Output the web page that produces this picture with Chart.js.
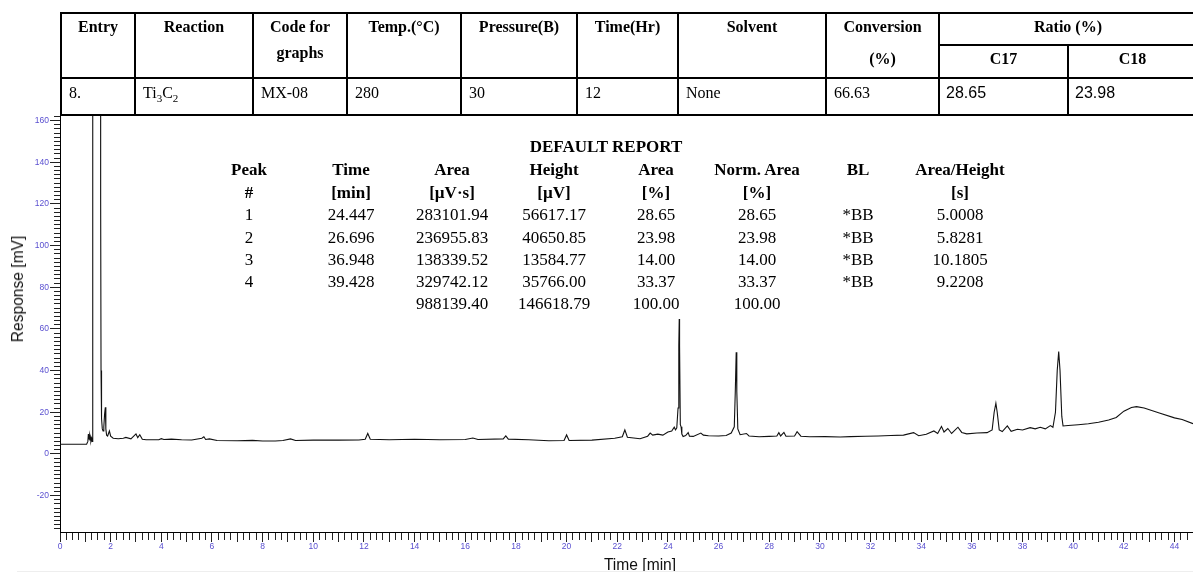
<!DOCTYPE html>
<html>
<head>
<meta charset="utf-8">
<script src="https://cdn.jsdelivr.net/npm/chart.js@4.4.0/dist/chart.umd.min.js"></script>
<style>
    html, body { margin: 0; padding: 0; background: #fff; }
    #wrap { position: relative; width: 1193px; height: 572px; overflow: hidden; }
    #chart { position: absolute; left: 0; top: 0; }
    .ln { position: absolute; background: #000; }
    .tx { position: absolute; font-family: "Liberation Serif", "Times New Roman", serif; font-size: 16px; line-height: 26px; color: #000; white-space: nowrap; }
    .hd { font-weight: bold; text-align: center; }
    .sans { font-family: "Liberation Sans", Arial, sans-serif; }
    .rp { position: absolute; font-family: "Liberation Serif", "Times New Roman", serif; font-size: 17px; line-height: 20px; color: #000; white-space: nowrap; transform: translate(-50%, -50%); }
    .ax { position: absolute; font-family: "Liberation Sans", Arial, sans-serif; font-size: 15.6px; color: #111; white-space: nowrap; transform: translate(-50%, -50%); }
</style>
</head>
<body>
<div id="wrap">
    <canvas id="chart" width="1193" height="572"></canvas>
    <div id="table"></div>
    <div id="report"></div>
    <div class="ax" style="left:18px;top:289px;transform:translate(-50%,-50%) rotate(-90deg);">Response [mV]</div>
    <div class="ax" style="left:640px;top:565px;">Time [min]</div>
    <div style="position:absolute;left:17px;top:571px;width:1176px;height:1px;background:#eee;"></div>
</div>
<script>
// ---- chromatogram trace ----
const times = [
    0, 1.05, 1.1, 1.12, 1.14, 1.16, 1.18, 1.2, 1.22, 1.25, 1.27, 1.29,
    1.295, 1.6, 1.605, 1.62, 1.64, 1.67, 1.7, 1.73, 1.76, 1.79, 1.81, 1.84, 1.88, 1.95,
    2.0, 2.1, 2.3, 2.5, 2.6, 2.8, 3.0, 3.07, 3.15, 3.25, 3.4, 3.9, 4.0, 4.1, 4.4, 4.8,
    5.2, 5.6, 5.68, 5.75, 5.9, 6.2, 7.0, 7.6, 8.0, 8.5, 8.8, 9.1, 9.3, 10.0, 11.0, 11.8,
    12.05, 12.15, 12.25, 13.0, 14.0, 15.0, 16.0, 16.3, 16.5, 17.5, 17.6, 17.7, 18.5, 19.3,
    19.9, 20.0, 20.1, 21.0, 21.9, 22.2, 22.3, 22.4, 22.9, 23.2, 23.3, 23.4, 23.6, 23.8,
    24.0, 24.15, 24.25, 24.3, 24.35, 24.4, 24.43, 24.447, 24.46, 24.49, 24.52, 24.55, 24.6,
    24.7, 24.8, 24.85, 25.0, 25.3, 25.4, 25.6, 26.0, 26.3, 26.5, 26.62, 26.66, 26.696,
    26.72, 26.76, 26.85, 27.1, 27.2, 27.6, 28.0, 28.3, 28.38, 28.45, 28.58, 28.66, 29.0,
    29.1, 29.25, 29.6, 30.2, 30.8, 31.2, 31.8, 32.3, 32.8, 33.3, 33.7, 33.9, 34.2, 34.5,
    34.65, 34.8, 34.9, 35.05, 35.2, 35.45, 35.6, 35.8, 36.2, 36.6, 36.8, 36.88, 36.948,
    37.0, 37.08, 37.2, 37.4, 37.55, 37.8, 38.0, 38.3, 38.5, 38.7, 38.9, 39.1, 39.2, 39.3,
    39.37, 39.428, 39.48, 39.55, 39.6, 39.8, 40.2, 40.6, 41.0, 41.4, 41.7, 42.0, 42.3,
    42.5, 42.8, 43.4, 44.0, 44.3, 44.73
];
const response = [
    4.6, 4.6, 6, 9.5, 7, 9, 6.5, 8, 6, 7.5, 6, 9,
    400, 400, 122, 40, 17, 12, 11, 13, 19, 22.4, 12, 9, 8.6, 11,
    8.5, 7.5, 7.3, 7.5, 7.9, 7.2, 9.6, 7.8, 9.2, 7, 6.8, 6.8, 7.3, 6.9, 7.1, 6.8,
    6.7, 7.5, 8.2, 6.9, 7.2, 6.4, 6.3, 6.5, 6.2, 6.2, 6.4, 7.2, 6.4, 6.6, 6.6, 6.7,
    7, 9.8, 7, 6.8, 7, 6.8, 6.9, 7.6, 6.9, 7.2, 8.6, 7.1, 6.8, 6.3,
    6.4, 9.1, 6.4, 6.6, 7.5, 8.2, 11.5, 8, 7.3, 8.5, 10, 9, 9.5, 9,
    10.5, 11, 12.8, 11.5, 12.5, 22, 52, 64.8, 52, 14, 13, 9.5, 8.3,
    8.8, 10.2, 8.5, 8.4, 10, 9, 8.7, 8.6, 8.8, 10, 13, 30, 48.8,
    30, 12, 9.2, 9.8, 8.6, 8.2, 8.4, 8.6, 10.2, 8.6, 10.3, 8.5, 8.6,
    10.7, 8.5, 8.2, 8.3, 8.1, 8.3, 8.5, 8.6, 8.8, 9, 10.2, 8.7, 9.4, 11,
    9.8, 13.2, 10.5, 12.2, 9.8, 12.8, 10.3, 9.6, 10, 10.2, 11.5, 20, 24.3,
    20, 11.5, 10.7, 13.4, 10.8, 11.8, 11.5, 12.6, 12, 12.8, 12, 13.6, 12.8, 20,
    40, 49.1, 40, 18, 13.4, 13.6, 14, 14.5, 15.2, 16.3, 17.5, 20.5, 22.3,
    22.7, 22, 19.6, 17.3, 16.5, 14.5
];

// ---- report printed inside the plot ----
const reportHead1 = ['Peak', 'Time', 'Area', 'Height', 'Area', 'Norm. Area', 'BL', 'Area/Height'];
const reportHead2 = ['#', '[min]', '[\u00b5V\u00b7s]', '[\u00b5V]', '[%]', '[%]', '', '[s]'];
const peakNo = ['1', '2', '3', '4', ''];
const peakTime = ['24.447', '26.696', '36.948', '39.428', ''];
const peakArea = ['283101.94', '236955.83', '138339.52', '329742.12', '988139.40'];
const peakHeight = ['56617.17', '40650.85', '13584.77', '35766.00', '146618.79'];
const areaPct = ['28.65', '23.98', '14.00', '33.37', '100.00'];
const normAreaPct = ['28.65', '23.98', '14.00', '33.37', '100.00'];
const baseLine = ['*BB', '*BB', '*BB', '*BB', ''];
const areaPerHeight = ['5.0008', '5.8281', '10.1805', '9.2208', ''];

// ---- reaction table above the plot ----
const tableHead = ['Entry', 'Reaction', 'Code for<br>graphs', 'Temp.(\u00b0C)', 'Pressure(B)', 'Time(Hr)', 'Solvent', 'Conversion'];
const tableRow = ['8.', 'Ti<sub style="font-size:11px">3</sub>C<sub style="font-size:11px">2</sub>', 'MX-08', '280', '30', '12', 'None', '66.63'];
const ratioRow = ['28.65', '23.98'];

const tickColor = '#5a50d0';

function addDiv(parent, cls, style, html) {
    const d = document.createElement('div');
    d.className = cls;
    d.style.cssText = style;
    d.innerHTML = html;
    parent.appendChild(d);
}

function buildTable() {
    const t = document.getElementById('table');
    const cols = [61, 135, 253, 347, 461, 577, 678, 826, 939, 1068, 1197];
    // horizontal rules
    [[13, 61], [45, 939], [78, 61], [115, 61]].forEach(function (h) {
        addDiv(t, 'ln', 'left:' + h[1] + 'px;top:' + (h[0] - 1) + 'px;width:' + (1198 - h[1]) + 'px;height:2px;', '');
    });
    // vertical rules
    cols.slice(0, 9).forEach(function (x) {
        addDiv(t, 'ln', 'left:' + (x - 1) + 'px;top:12px;width:2px;height:104px;', '');
    });
    addDiv(t, 'ln', 'left:1067px;top:44px;width:2px;height:72px;', '');

    tableHead.forEach(function (txt, i) {
        addDiv(t, 'tx hd', 'left:' + cols[i] + 'px;top:14px;width:' + (cols[i + 1] - cols[i]) + 'px;', txt);
    });
    addDiv(t, 'tx hd', 'left:826px;top:46px;width:113px;', '(%)');
    addDiv(t, 'tx hd', 'left:939px;top:14px;width:258px;', 'Ratio (%)');
    addDiv(t, 'tx hd', 'left:939px;top:46px;width:129px;', 'C17');
    addDiv(t, 'tx hd', 'left:1068px;top:46px;width:129px;', 'C18');

    tableRow.forEach(function (txt, i) {
        addDiv(t, 'tx', 'left:' + (cols[i] + 8) + 'px;top:80px;', txt);
    });
    ratioRow.forEach(function (txt, i) {
        addDiv(t, 'tx sans', 'left:' + (cols[8 + i] + 7) + 'px;top:80px;', txt);
    });
}

function buildReport() {
    const r = document.getElementById('report');
    const colX = [249, 351, 452, 554, 656, 757, 858, 960];
    const rowY = [215, 237.5, 260, 282, 304];
    const columns = [peakNo, peakTime, peakArea, peakHeight, areaPct, normAreaPct, baseLine, areaPerHeight];
    addDiv(r, 'rp', 'left:606px;top:147px;font-weight:bold;', 'DEFAULT REPORT');
    colX.forEach(function (x, c) {
        addDiv(r, 'rp', 'left:' + x + 'px;top:170px;font-weight:bold;', reportHead1[c]);
        addDiv(r, 'rp', 'left:' + x + 'px;top:192.5px;font-weight:bold;', reportHead2[c]);
        columns[c].forEach(function (txt, k) {
            addDiv(r, 'rp', 'left:' + x + 'px;top:' + rowY[k] + 'px;', txt);
        });
    });
}

function createChromatogram() {
    const points = times.map(function (t, i) { return { x: t, y: response[i] }; });
    const tickFont = { family: '"Liberation Sans", Arial, sans-serif', size: 8.5 };
    const config = {
        type: 'line',
        data: {
            datasets: [{
                data: points,
                borderColor: '#111',
                borderWidth: 1.1,
                pointRadius: 0,
                tension: 0,
                fill: false
            }]
        },
        options: {
            responsive: false,
            animation: false,
            events: [],
            layout: { padding: { top: 115, left: 0, right: 0, bottom: 0 } },
            plugins: { legend: { display: false }, tooltip: { enabled: false } },
            scales: {
                x: {
                    type: 'linear',
                    min: 0,
                    max: 44.73,
                    afterFit: function (s) { s.height = 40; },
                    border: { display: true, color: '#000', width: 1 },
                    grid: {
                        drawOnChartArea: false,
                        tickLength: 10,
                        tickColor: '#222',
                        tickBorderDash: function (ctx) {
                            return ctx.tick && Number.isInteger(ctx.tick.value) ? [] : [7, 20];
                        }
                    },
                    ticks: {
                        stepSize: 0.25,
                        autoSkip: false,
                        includeBounds: false,
                        maxRotation: 0,
                        minRotation: 0,
                        padding: 0,
                        color: tickColor,
                        font: tickFont,
                        callback: function (v) { return v % 2 === 0 ? String(v) : ''; }
                    }
                },
                y: {
                    min: -37.5,
                    max: 162.7,
                    afterFit: function (s) { s.width = 60; },
                    border: { display: true, color: '#000', width: 1 },
                    grid: {
                        drawOnChartArea: false,
                        tickLength: 10,
                        tickColor: '#222',
                        tickBorderDash: function (ctx) {
                            return ctx.tick && ctx.tick.value % 20 === 0 ? [] : [0, 4, 20];
                        }
                    },
                    ticks: {
                        stepSize: 2,
                        autoSkip: false,
                        includeBounds: false,
                        padding: 1,
                        color: tickColor,
                        font: tickFont,
                        callback: function (v) { return v % 20 === 0 ? String(v) : ''; }
                    }
                }
            }
        }
    };
    const ctx = document.getElementById('chart').getContext('2d');
    const chromatogram = new Chart(ctx, config);
}

buildTable();
buildReport();
createChromatogram();
</script>
</body>
</html>
